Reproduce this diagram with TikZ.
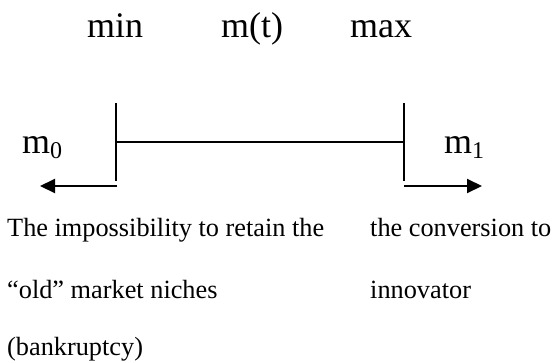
\documentclass[tikz,border=0pt]{standalone}
\usepackage{fontspec}
\setmainfont{Liberation Serif}
\usetikzlibrary{arrows.meta}
\begin{document}
\begin{tikzpicture}[x=1pt,y=-1pt,
  big/.style={anchor=base west,inner sep=0pt,font=\fontsize{36}{40}\selectfont},
  small/.style={anchor=base west,inner sep=0pt,font=\fontsize{26.3}{30}\selectfont},
  bar/.style={line width=2pt},
  arr/.style={line width=2pt,-{Triangle[length=15pt,width=14pt]}}]
\useasboundingbox (0,0) rectangle (556,362);
% top labels
\node[big] (min) at (87,37) {min};
\node[big] (mt) at (221,37) {m(t)};
\node[big] (max) at (350,37) {max};
% side labels
\node[big] (m0) at (22,153) {m\raisebox{-5pt}{\fontsize{24}{24}\selectfont 0}};
\node[big] (m1) at (444,153) {m\raisebox{-5pt}{\fontsize{24}{24}\selectfont 1}};
% structure
\coordinate (lt) at (116,103);
\coordinate (lb) at (116,181);
\coordinate (rt) at (404,103);
\coordinate (rb) at (404,181);
\coordinate (lm) at (116,142);
\coordinate (rm) at (404,142);
\coordinate (la) at (117,186);
\coordinate (ltip) at (40,186);
\coordinate (ra) at (404,186);
\coordinate (rtip) at (482,186);
\draw[bar] (lt) -- (lb);
\draw[bar] (rt) -- (rb);
\draw[bar] (lm) -- (rm);
\draw[arr] (la) -- (ltip);
\draw[arr] (ra) -- (rtip);
% bottom texts
\node[small] (l1) at (7,236) {The impossibility to retain the};
\node[small] (l2) at (7,298) {“old” market niches};
\node[small] (l3) at (7,355) {(bankruptcy)};
\node[small] (r1) at (370,236) {the conversion to};
\node[small] (r2) at (370,298) {innovator};
\end{tikzpicture}
\end{document}
